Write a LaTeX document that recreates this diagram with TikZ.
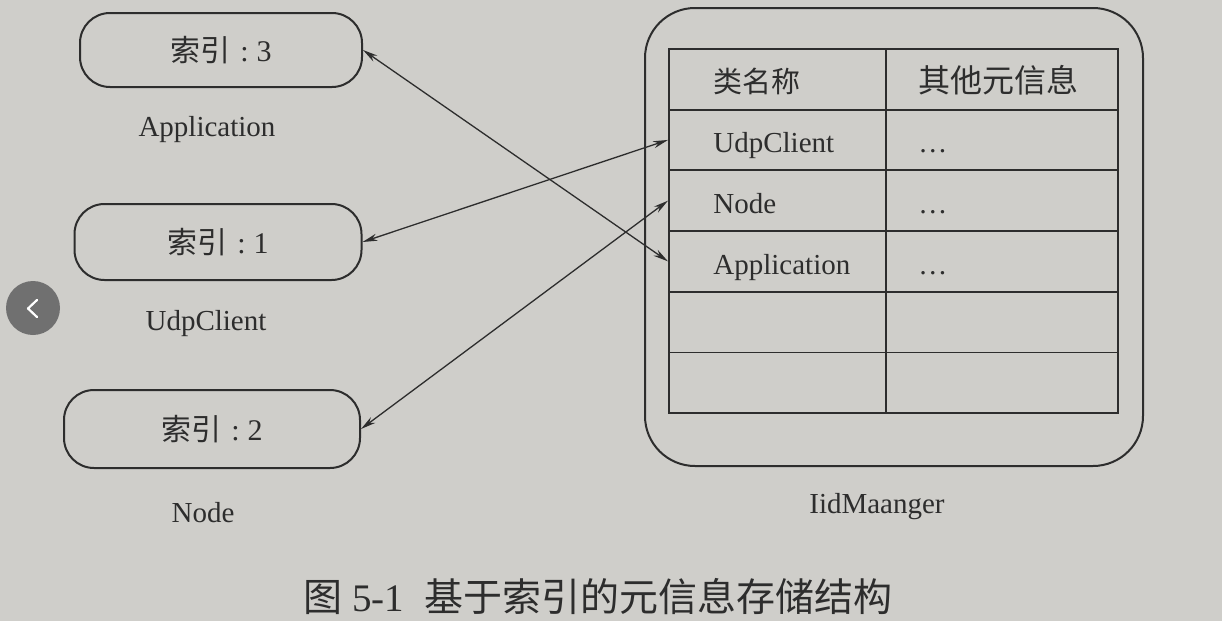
\documentclass[tikz,border=0pt]{standalone}
\usepackage{fontspec}
\setmainfont{Liberation Serif}
\newfontfamily\cjk{Noto Sans CJK SC}
\usetikzlibrary{positioning,arrows.meta}
\definecolor{paper}{RGB}{207,206,202}
\definecolor{ink}{RGB}{45,45,45}
\definecolor{btn}{RGB}{112,112,112}
\newcommand{\idxtext}[1]{{\cjk 索引}\hspace{5pt}:\hspace{4pt}#1}
\begin{document}
\begin{tikzpicture}[x=0.5pt,y=-0.5pt]
\tikzstyle{idx}=[draw=ink,line width=1pt,rounded corners=15pt,text=ink,font=\fontsize{15}{18}\selectfont]
\tikzstyle{lbl}=[text=ink,font=\fontsize{14.5}{17}\selectfont]
\tikzstyle{cell}=[draw=ink,line width=0.9pt,anchor=north west,minimum height=30.35pt,inner sep=0pt]
\tikzstyle{link}=[draw=ink,line width=0.65pt,{Stealth[length=7.5pt,width=3.6pt]}-{Stealth[length=7.5pt,width=3.6pt]}]
\useasboundingbox[fill=paper](0,0)rectangle(1222,621);
% index boxes
\node[idx,minimum width=141pt,minimum height=37pt](i3)at(221,50){\idxtext{3}};
\node[idx,minimum width=143.5pt,minimum height=38pt](i1)at(218,242){\idxtext{1}};
\node[idx,minimum width=148pt,minimum height=39pt](i2)at(212,429){\idxtext{2}};
\node[lbl](l3)at(207,130){Application};
\node[lbl](l1)at(206,324){UdpClient};
\node[lbl](l2)at(203,513){Node};
% IidMaanger
\node[draw=ink,line width=1pt,rounded corners=25pt,minimum width=249pt,minimum height=229pt](mgr)at(894,237){};
\node[lbl](lm)at(877,507){IidMaanger};
\foreach \r/\k/\v in {0/{\cjk 类名称}/{\cjk\fontsize{16}{19}\selectfont 其他元信息},1/UdpClient/\dots,2/Node/\dots,3/Application/\dots,4/{}/{},5/{}/{}}{
  \node[cell,minimum width=108.5pt](k\r)at(668,48+60.7*\r){};
  \node[cell,minimum width=116pt](v\r)at(885,48+60.7*\r){};
  \node[lbl,anchor=base west,inner sep=0pt]at([xshift=22.5pt,yshift=-6.5pt]k\r.west){\k};
  \node[lbl,anchor=base west,inner sep=0pt]at([xshift=16.5pt,yshift=-6.5pt]v\r.west){\v};
}
% links
\path[link](i3.east)--(k3.west);
\path[link](i1.east)--(k1.west);
\path[link](i2.east)--(k2.west);
% caption
\node[text=ink,font=\fontsize{19.5}{24}\selectfont](cap)at(598,597){{\cjk 图}\ 5-1\hspace{10pt}{\cjk 基于索引的元信息存储结构}};
% viewer button
\fill[btn](33,308)circle(13.5pt);
\draw[white,line width=1.1pt,line cap=round,line join=round](37,300)--(28,308.5)--(37,317);
\end{tikzpicture}
\end{document}
